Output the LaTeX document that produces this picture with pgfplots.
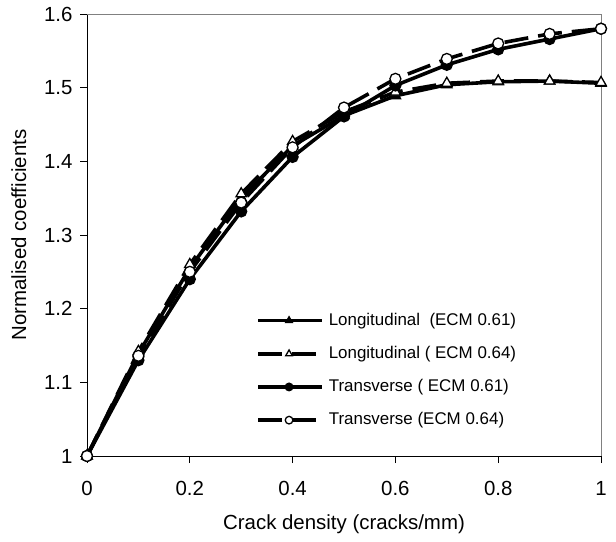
\documentclass[border=0pt]{standalone}
\usepackage{fontspec}
\setmainfont{Liberation Sans}
\usepackage{pgfplots}
\pgfplotsset{compat=1.18}

\pgfplotstableread{
x    l61    l64    t61    t64
0    1.000  1.000  1.000  1.000
0.1  1.139  1.142  1.130  1.136
0.2  1.255  1.260  1.240  1.250
0.3  1.350  1.356  1.332  1.344
0.4  1.421  1.427  1.406  1.419
0.5  1.462  1.467  1.461  1.473
0.6  1.489  1.494  1.503  1.512
0.7  1.504  1.506  1.531  1.539
0.8  1.508  1.509  1.552  1.560
0.9  1.509  1.509  1.566  1.573
1.0  1.506  1.507  1.580  1.580
}\data

\begin{document}
\begin{tikzpicture}
\begin{axis}[
  scale only axis,
  width=514bp, height=442bp,
  xmin=0, xmax=1, ymin=1, ymax=1.6,
  axis x line*=bottom, axis y line*=left,
  axis line style={black, line width=0.9bp, -},
  xtick={0,0.2,0.4,0.6,0.8,1},
  ytick={1,1.1,1.2,1.3,1.4,1.5,1.6},
  xticklabels={0,0.2,0.4,0.6,0.8,1},
  yticklabels={1,1.1,1.2,1.3,1.4,1.5,1.6},
  tick align=outside,
  major tick length=7bp,
  tick style={black, line width=0.9bp},
  ticklabel style={font=\fontsize{20.5}{24}\selectfont},
  xticklabel style={yshift=-15bp},
  yticklabel style={xshift=-4bp},
  label style={font=\fontsize{20.5}{24}\selectfont},
  xlabel={Crack density (cracks/mm)},
  ylabel={Normalised coefficients},
  xlabel style={yshift=-12bp},
  ylabel style={yshift=11bp},
  clip=false,
  legend cell align=left,
  legend image code/.code={%
    \draw[#1, line width=3.5bp, mark size=3.8bp, mark repeat=2, mark phase=2]
      plot coordinates {(0bp,0bp) (31bp,0bp) (64bp,0bp)};},
  legend style={draw=none, fill=none, inner sep=0pt,
    at={(rel axis cs:0.329,0.325)}, anchor=north west,
    font=\fontsize{17}{20}\selectfont,
    nodes={inner sep=0pt, text height=12.5bp, text depth=3.5bp},
    row sep=17.2bp,
    /tikz/every odd column/.append style={column sep=5bp}},
]
\addplot[black, line width=3.6bp, mark=triangle*, mark size=6bp, mark options={solid, fill=black, line width=1.3bp}]
  table[x=x, y=l61] {\data};
\addlegendentry{Longitudinal\ \ (ECM 0.61)}
\addplot[black, line width=3.6bp, dash pattern=on 24bp off 10bp, mark=triangle*, mark size=6bp, mark options={solid, fill=white, line width=1.3bp}]
  table[x=x, y=l64] {\data};
\addlegendentry{Longitudinal ( ECM 0.64)}
\addplot[black, line width=3.6bp, mark=*, mark size=5.5bp, mark options={solid, fill=black, line width=1.3bp}]
  table[x=x, y=t61] {\data};
\addlegendentry{Transverse ( ECM 0.61)}
\addplot[black, line width=3.6bp, dash pattern=on 24bp off 10bp, mark=*, mark size=5.5bp, mark options={solid, fill=white, line width=1.3bp}]
  table[x=x, y=t64] {\data};
\addlegendentry{Transverse (ECM 0.64)}
\draw[gray, line width=0.9bp] (rel axis cs:0,1) -- (rel axis cs:1,1) -- (rel axis cs:1,0);
\coordinate (bbl) at (rel axis cs:-0.16926,-0.19457);
\coordinate (btr) at (rel axis cs:1.02918,1.03167);
\end{axis}
\pgfresetboundingbox
\useasboundingbox (bbl) rectangle (btr);
\end{tikzpicture}
\end{document}
